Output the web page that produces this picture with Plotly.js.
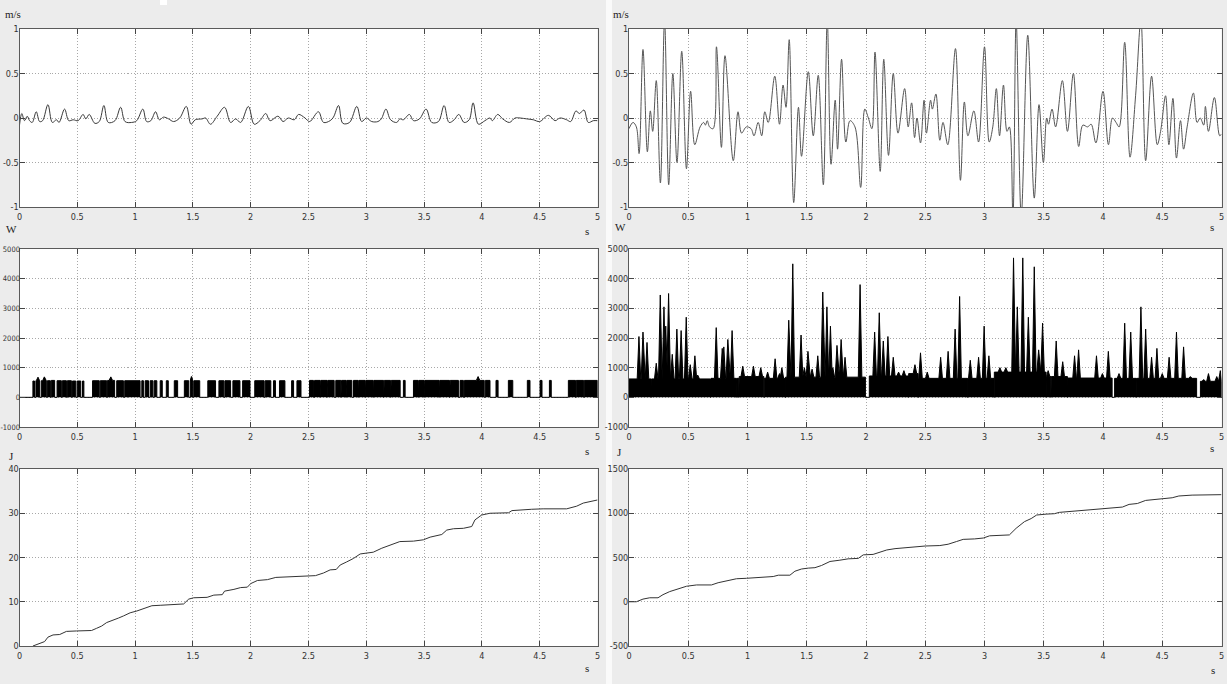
<!DOCTYPE html>
<html>
<head>
<meta charset="utf-8">
<script src="https://cdn.plot.ly/plotly-3.0.1.min.js"></script>
<style>
html,body{margin:0;padding:0;background:#ececec;}
#chart{width:1227px;height:684px;}
</style>
</head>
<body>
<div id="chart"></div>
<script>
// ---------------- DATA ----------------
var xTickVals = [0,0.5,1,1.5,2,2.5,3,3.5,4,4.5,5];
var xTickText = ['0','0.5','1','1.5','2','2.5','3','3.5','4','4.5','5'];
var velTickVals = [-1,-0.5,0,0.5,1];
var velTickText = ['-1','-0.5','0','0.5','1'];
var powTickVals = [-1000,0,1000,2000,3000,4000,5000];
var powTickText = ['-1000','0','1000','2000','3000','4000','5000'];
var enTickValsL = [0,10,20,30,40];
var enTickTextL = ['0','10','20','30','40'];
var enTickValsR = [-500,0,500,1000,1500];
var enTickTextR = ['-500','0','500','1000','1500'];

// velocity, left (m/s)
var tVelL = [0,0.02,0.043,0.067,0.087,0.11,0.145,0.174,0.2,0.246,
  0.284,0.32,0.342,0.39,0.426,0.464,0.507,0.55,0.574,0.603,
  0.652,0.69,0.73,0.768,0.826,0.875,0.913,0.97,1.014,1.067,
  1.1,1.136,1.177,1.21,1.246,1.29,1.333,1.386,1.443,1.484,
  1.52,1.58,1.61,1.652,1.71,1.774,1.826,1.87,1.913,1.98,
  2.03,2.08,2.13,2.167,2.237,2.28,2.325,2.377,2.414,2.47,
  2.51,2.586,2.63,2.687,2.716,2.76,2.797,2.855,2.918,2.96,
  3.0,3.047,3.1,3.13,3.17,3.21,3.263,3.29,3.32,3.373,
  3.408,3.46,3.517,3.566,3.624,3.673,3.716,3.76,3.8,3.846,
  3.89,3.924,3.97,4.026,4.07,4.09,4.137,4.18,4.238,4.287,
  4.33,4.388,4.445,4.5,4.575,4.633,4.676,4.733,4.768,4.814,
  4.843,4.883,4.92,4.964,5.0];
var vVelL = [-0.08,0.05,-0.03,0.02,-0.03,-0.05,0.07,-0.04,-0.03,0.15,
  -0.05,-0.02,-0.05,0.1,-0.03,-0.02,-0.03,0.04,-0.01,0.04,
  -0.06,-0.04,0.14,-0.05,-0.03,0.12,-0.04,-0.05,-0.03,0.1,
  -0.04,-0.03,0.07,-0.02,0.01,-0.01,-0.04,0.0,0.13,-0.07,
  -0.02,-0.01,0.0,-0.07,0.02,0.12,-0.05,-0.01,-0.05,0.13,
  -0.07,-0.03,0.05,-0.03,0.02,-0.04,0.0,-0.02,0.04,0.0,
  -0.04,0.07,-0.05,-0.03,0.01,0.14,-0.06,-0.05,0.13,-0.04,
  0.0,-0.04,-0.04,-0.01,0.1,-0.02,-0.05,-0.01,-0.02,0.04,
  -0.03,-0.01,0.1,-0.05,-0.04,0.14,-0.05,-0.02,0.04,-0.05,
  -0.02,0.17,-0.07,-0.03,0.0,-0.03,0.04,-0.01,-0.05,0.0,
  0.0,-0.01,-0.02,-0.04,0.03,-0.03,0.0,-0.02,-0.04,0.08,
  0.05,0.09,-0.05,-0.03,-0.03];

// velocity, right (m/s)
var tVelR = [0,0.034,0.062,0.085,0.118,0.155,0.18,0.2,0.23,0.265,
  0.3,0.335,0.37,0.405,0.445,0.485,0.52,0.555,0.6,0.63,
  0.645,0.66,0.68,0.71,0.738,0.78,0.81,0.88,0.92,0.95,
  0.99,1.03,1.055,1.09,1.12,1.146,1.175,1.23,1.27,1.30,
  1.325,1.352,1.39,1.43,1.456,1.513,1.555,1.597,1.64,1.673,
  1.705,1.74,1.76,1.794,1.83,1.865,1.907,1.955,1.99,2.02,
  2.05,2.076,2.12,2.15,2.19,2.23,2.27,2.326,2.356,2.385,
  2.41,2.43,2.46,2.49,2.51,2.545,2.56,2.59,2.623,2.65,
  2.69,2.755,2.797,2.83,2.86,2.91,2.95,3.0,3.04,3.07,
  3.1,3.127,3.16,3.19,3.21,3.24,3.267,3.31,3.365,3.42,
  3.46,3.497,3.525,3.54,3.57,3.6,3.657,3.7,3.75,3.795,
  3.83,3.87,3.9,3.94,4.0,4.046,4.08,4.11,4.136,4.183,
  4.228,4.275,4.32,4.36,4.41,4.458,4.486,4.528,4.556,4.59,
  4.62,4.654,4.68,4.71,4.763,4.794,4.82,4.85,4.864,4.89,
  4.94,4.985,5.0];
var vVelR = [-0.12,-0.05,-0.1,-0.4,0.77,-0.38,0.08,-0.15,0.42,-0.73,
  1.1,-0.75,0.5,-0.5,0.75,-0.57,0.3,-0.3,-0.1,-0.05,
  -0.08,-0.03,-0.1,-0.12,0.8,-0.33,0.7,-0.48,0.07,-0.17,
  -0.1,-0.12,-0.2,-0.05,-0.2,0.07,-0.05,0.47,-0.07,0.37,
  0.12,0.88,-0.95,0.12,-0.43,0.52,-0.2,0.48,-0.75,1.1,
  -0.52,0.2,-0.35,0.66,-0.27,-0.03,-0.1,-0.78,0.1,0.0,
  -0.12,0.74,-0.6,0.66,-0.42,0.5,-0.17,0.33,-0.1,0.17,
  -0.22,0.0,-0.28,0.2,-0.17,0.2,0.1,0.27,-0.25,-0.05,
  -0.3,0.78,-0.7,0.18,-0.2,0.08,-0.27,0.8,-0.27,-0.1,
  0.33,-0.2,0.37,-0.15,-0.1,-1.1,1.1,-1.1,0.93,-0.9,
  0.15,-0.5,0.0,-0.07,0.1,-0.1,0.42,-0.15,0.5,-0.32,
  -0.08,-0.1,-0.07,-0.28,0.3,-0.3,0.0,-0.05,-0.1,0.85,
  -0.44,0.25,1.1,-0.48,0.47,-0.3,-0.15,0.25,-0.3,0.22,
  -0.45,-0.03,-0.35,-0.1,0.28,-0.05,0.0,-0.08,0.13,-0.15,
  0.23,-0.2,-0.18];

// power, left (W): on-intervals and their level
var powStartL = [0.116,0.142,0.188,0.241,0.275,0.325,0.371,0.414,0.458,0.499,0.545,
  0.632,0.699,0.762,0.841,0.910,1.058,1.087,1.130,1.165,1.217,1.270,1.339,
  1.426,1.478,1.507,1.629,1.725,1.777,1.846,1.930,2.035,2.125,2.197,2.249,
  2.354,2.400,2.509,2.552,2.606,2.666,2.736,2.786,2.831,2.889,2.936,2.996,
  3.066,3.156,3.216,3.321,3.408,3.456,3.506,3.636,3.726,3.811,3.849,4.030,
  4.122,4.229,4.393,4.503,4.584,4.748,4.816,4.886];
var powEndL = [0.130,0.174,0.232,0.267,0.304,0.362,0.406,0.449,0.487,0.530,0.557,
  0.690,0.754,0.823,0.899,1.043,1.072,1.116,1.154,1.188,1.235,1.287,1.368,
  1.464,1.496,1.559,1.696,1.768,1.826,1.907,1.994,2.116,2.174,2.214,2.296,
  2.371,2.435,2.543,2.600,2.660,2.722,2.780,2.825,2.875,2.930,2.990,3.060,
  3.150,3.210,3.293,3.336,3.450,3.500,3.630,3.720,3.797,3.840,4.020,4.070,
  4.140,4.267,4.416,4.520,4.600,4.810,4.880,5.0];
var powLevelL = [550,560,560,560,570,560,560,560,550,550,550,
  560,560,570,560,560,560,560,560,560,560,560,560,
  560,560,560,560,560,560,560,560,560,560,560,560,
  560,560,570,570,570,570,570,570,570,570,570,570,
  570,570,570,570,570,570,570,570,570,570,570,570,
  570,570,570,570,570,570,570,570];
var spikeTL = [0.160,0.215,0.790,1.487,1.490,3.967];
var spikeVL = [680,690,690,700,690,700];

// power, right (W): base segments and spikes
var powStartR = [0,0.192,0.692,0.908,0.930,1.142,1.321,2.028,2.360,2.443,2.858,3.083,3.524,3.564,3.704,4.098,4.283,4.822];
var powEndR   = [0.188,0.688,0.904,0.926,1.138,1.317,1.995,2.357,2.440,2.855,3.080,3.520,3.560,3.700,4.077,4.279,4.790,5.0];
var powLevelR = [620,620,640,640,700,640,680,720,800,640,640,850,700,700,650,640,640,540];
var spikeTR = [0.084,0.118,0.152,0.23,0.264,0.295,0.31,0.334,0.365,0.404,
  0.44,0.483,0.517,0.556,0.58,0.736,0.787,0.8,0.834,0.87,
  0.96,1.05,1.112,1.17,1.233,1.27,1.29,1.348,1.382,1.452,
  1.48,1.51,1.545,1.593,1.635,1.67,1.70,1.72,1.755,1.79,
  1.823,1.95,2.073,2.112,2.146,2.185,2.23,2.275,2.32,2.413,
  2.46,2.517,2.63,2.693,2.752,2.79,2.88,2.95,2.997,3.037,
  3.13,3.18,3.245,3.277,3.323,3.37,3.42,3.457,3.49,3.537,
  3.605,3.66,3.76,3.794,3.945,3.995,4.045,4.135,4.183,4.234,
  4.32,4.36,4.41,4.455,4.5,4.558,4.62,4.68,4.737,4.85,
  4.89,4.96,4.99];
var spikeVR = [2050,2200,1850,1150,3450,3050,2400,3500,1450,2300,
  2250,2700,1100,1400,750,2350,1650,1700,1950,2250,
  1050,1050,1000,850,1300,800,1000,2600,4500,2100,
  1000,1550,950,1400,3550,3050,2400,1000,1750,1950,
  1350,3800,2200,2850,1900,2050,1350,850,900,1100,
  1500,850,1350,1550,2300,3400,1250,1350,2400,1400,
  1000,1000,4700,3050,4700,2700,4400,1600,2500,900,
  1900,1200,1400,1600,1400,800,1550,800,2500,2200,
  3050,2300,1350,1650,800,1350,2200,1700,700,600,
  800,700,900];

// energy, left (J)
var tEnL = [0.116,0.145,0.19,0.217,0.246,0.29,0.348,0.377,0.406,0.493,
  0.623,0.667,0.71,0.754,0.797,0.855,0.9,0.957,1.014,1.072,
  1.145,1.217,1.333,1.42,1.464,1.507,1.623,1.681,1.754,1.774,
  1.855,1.913,1.971,2.0,2.058,2.145,2.217,2.319,2.435,2.56,
  2.63,2.687,2.74,2.774,2.83,2.89,2.947,3.0,3.06,3.134,
  3.206,3.29,3.408,3.494,3.552,3.653,3.696,3.754,3.84,3.912,
  3.94,3.998,4.07,4.23,4.26,4.388,4.43,4.53,4.733,4.82,
  4.877,5.0];
var eEnL = [0,0.3,0.7,1.0,2.0,2.5,2.6,3.0,3.3,3.4,
  3.5,4.0,4.5,5.3,5.8,6.3,6.8,7.5,7.9,8.5,
  9.1,9.2,9.3,9.5,10.6,10.9,11.0,11.5,11.6,12.4,
  12.8,13.2,13.3,14.1,14.8,15.0,15.5,15.6,15.8,15.9,
  16.5,17.2,17.3,18.3,19.0,19.8,20.8,21.0,21.2,22.1,
  22.8,23.6,23.7,24.0,24.6,25.2,26.2,26.5,26.6,27.0,
  28.5,29.6,30.0,30.1,30.6,30.7,30.9,31.0,31.0,31.6,
  32.3,33.0];

// energy, right (J)
var tEnR = [0,0.062,0.118,0.175,0.245,0.287,0.344,0.428,0.485,0.57,
  0.696,0.752,0.837,0.907,0.99,1.076,1.217,1.26,1.358,1.4,
  1.456,1.513,1.569,1.625,1.696,1.78,1.85,1.935,1.977,2.06,
  2.118,2.175,2.245,2.287,2.4,2.5,2.623,2.693,2.763,2.82,
  2.917,2.99,3.043,3.127,3.21,3.267,3.337,3.394,3.44,3.52,
  3.59,3.632,3.772,3.912,4.024,4.08,4.164,4.22,4.29,4.36,
  4.472,4.584,4.64,4.752,5.0];
var eEnR = [0,0,30,45,45,80,115,150,175,190,
  190,215,240,260,265,275,285,300,300,345,
  370,380,385,410,455,470,485,490,530,535,
  560,585,600,605,620,630,635,650,680,705,
  710,720,745,750,755,830,905,940,980,990,
  995,1010,1025,1040,1055,1065,1070,1100,1110,1145,
  1160,1175,1195,1205,1210];

// ---------------- BUILD ----------------
var W = 1227, H = 684;
function px(x){ return x / W; }
function py(y){ return 1 - y / H; }

var SPIKE_HALF = 0.015;
function buildPower(starts, ends, levels, sT, sV){
  var xs = [0], ys = [0];
  for (var i = 0; i < starts.length; i++){
    var a = starts[i], b = ends[i], lv = levels[i];
    xs.push(a); ys.push(0);
    xs.push(a); ys.push(lv);
    for (var k = 0; k < sT.length; k++){
      var t = sT[k];
      if (t > a && t < b){
        xs.push(Math.max(a, t - SPIKE_HALF)); ys.push(lv);
        xs.push(t); ys.push(sV[k]);
        xs.push(Math.min(b, t + SPIKE_HALF)); ys.push(lv);
      }
    }
    xs.push(b); ys.push(lv);
    xs.push(b); ys.push(0);
  }
  xs.push(5); ys.push(0);
  return {x: xs, y: ys};
}
var pL = buildPower(powStartL, powEndL, powLevelL, spikeTL, spikeVL);
var pR = buildPower(powStartR, powEndR, powLevelR, spikeTR, spikeVR);

var traces = [
  {x: tVelL, y: vVelL, xaxis:'x', yaxis:'y', type:'scatter', mode:'lines',
   line:{color:'#3a3a3a', width:1, shape:'spline', smoothing:1}},
  {x: tVelR, y: vVelR, xaxis:'x2', yaxis:'y2', type:'scatter', mode:'lines',
   line:{color:'#555555', width:1, shape:'spline', smoothing:1}},
  {x: pL.x, y: pL.y, xaxis:'x3', yaxis:'y3', type:'scatter', mode:'lines',
   fill:'tozeroy', fillcolor:'#000000', line:{color:'#000000', width:1}},
  {x: pR.x, y: pR.y, xaxis:'x4', yaxis:'y4', type:'scatter', mode:'lines',
   fill:'tozeroy', fillcolor:'#000000', line:{color:'#000000', width:1}},
  {x: tEnL, y: eEnL, xaxis:'x5', yaxis:'y5', type:'scatter', mode:'lines',
   line:{color:'#333333', width:1}},
  {x: tEnR, y: eEnR, xaxis:'x6', yaxis:'y6', type:'scatter', mode:'lines',
   line:{color:'#333333', width:1}}
];

var TICKFAMILY = "'Liberation Sans Narrow','DejaVu Sans Condensed','Roboto Condensed',Roboto,sans-serif";
var TICKFONT = {family: TICKFAMILY, size:9, color:'#333333'};
var TICKFONT_SMALL = {family: TICKFAMILY, size:7.5, color:'#333333'};
var UNITFONT = {family:"'Liberation Serif','DejaVu Serif',serif", size:11, color:'#222222'};

var colL = [px(19.5), px(597.5)];
var colR = [px(629), px(1221.5)];
var rowT = [py(207), py(29)];
var rowM = [py(427), py(249)];
var rowB = [py(646), py(469)];

var GRID = {showgrid:true, gridcolor:'#a8a8a8', griddash:'1px,2px', gridwidth:1,
  zeroline:false, showline:true, linecolor:'#5a5a5a', linewidth:1,
  mirror:'ticks', ticks:'inside', ticklen:5, tickcolor:'#444444', fixedrange:true};

function xAx(domain, anchor){
  var o = {domain: domain, anchor: anchor, range:[0,5], tickmode:'array',
    tickvals: xTickVals, ticktext: xTickText, tickfont: TICKFONT, ticklabelstandoff: 1};
  for (var k in GRID) o[k] = GRID[k];
  return o;
}
function yAx(domain, anchor, range, vals, text, font, standoff){
  var o = {domain: domain, anchor: anchor, range: range, tickmode:'array',
    tickvals: vals, ticktext: text, tickfont: font || TICKFONT,
    ticklabelstandoff: (standoff === undefined ? -2 : standoff)};
  for (var k in GRID) o[k] = GRID[k];
  return o;
}

function ann(text, x, y){
  return {text: text, xref:'paper', yref:'paper', x: px(x), y: py(y),
    xanchor:'center', yanchor:'middle', showarrow:false, font: UNITFONT};
}

var layout = {
  width: W, height: H,
  margin:{l:0, r:0, t:0, b:0, pad:0},
  paper_bgcolor:'#ececec', plot_bgcolor:'#ffffff',
  showlegend:false,
  xaxis: xAx(colL,'y'), yaxis: yAx(rowT,'x',[-1,1],velTickVals,velTickText),
  xaxis2: xAx(colR,'y2'), yaxis2: yAx(rowT,'x2',[-1,1],velTickVals,velTickText),
  xaxis3: xAx(colL,'y3'), yaxis3: yAx(rowM,'x3',[-1000,5000],powTickVals,powTickText,TICKFONT_SMALL,-3),
  xaxis4: xAx(colR,'y4'), yaxis4: yAx(rowM,'x4',[-1000,5000],powTickVals,powTickText),
  xaxis5: xAx(colL,'y5'), yaxis5: yAx(rowB,'x5',[0,40],enTickValsL,enTickTextL),
  xaxis6: xAx(colR,'y6'), yaxis6: yAx(rowB,'x6',[-500,1500],enTickValsR,enTickTextR),
  shapes:[
    {type:'rect', xref:'paper', yref:'paper', x0:px(606), x1:px(612), y0:0, y1:1,
     fillcolor:'#fafafa', line:{width:0}, layer:'below'},
    {type:'rect', xref:'paper', yref:'paper', x0:px(160), x1:px(167), y0:py(5), y1:1,
     fillcolor:'#ffffff', line:{width:0}, layer:'below'}
  ],
  annotations:[
    ann('m/s', 13, 14), ann('m/s', 621, 14),
    ann('W', 11, 229), ann('W', 620, 227),
    ann('J', 11, 456), ann('J', 619, 452),
    ann('s', 587, 231), ann('s', 1212, 227),
    ann('s', 587, 451), ann('s', 1212, 448),
    ann('s', 587, 668), ann('s', 1213, 670)
  ]
};

Plotly.newPlot('chart', traces, layout, {staticPlot:true, displayModeBar:false});
</script>
</body>
</html>
